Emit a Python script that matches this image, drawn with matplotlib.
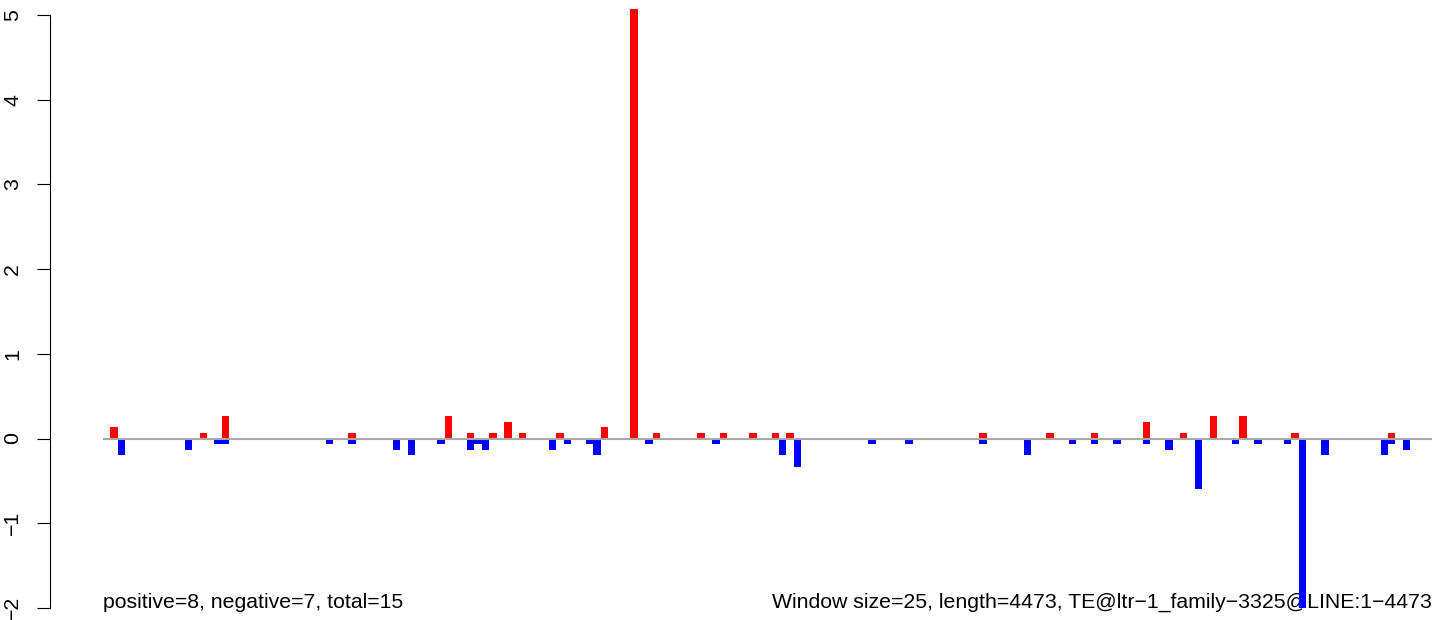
import matplotlib
matplotlib.use("Agg")
import matplotlib.pyplot as plt

# ---- data ----
window_size = 25
seq_length = 4473

# window indices and values of positive (red) bars
pos_windows = [1, 13, 16, 33, 46, 49, 52, 54, 56, 61, 67, 71, 74, 80, 83, 87,
               90, 92, 118, 127, 133, 140, 145, 149, 153, 160, 173]
pos_values = [0.133, 0.067, 0.267, 0.067, 0.267, 0.067, 0.067, 0.2, 0.067, 0.067,
              0.133, 5.067, 0.067, 0.067, 0.067, 0.067, 0.067, 0.067, 0.067, 0.067,
              0.067, 0.2, 0.067, 0.267, 0.267, 0.067, 0.067]

# window indices and values of negative (blue) bars
neg_windows = [2, 11, 15, 16, 30, 33, 39, 41, 45, 49, 50, 51, 60, 62, 65, 66, 73,
               82, 91, 93, 103, 108, 118, 124, 130, 133, 136, 140, 143, 147, 152,
               155, 159, 161, 164, 172, 173, 175]
neg_values = [-0.2, -0.133, -0.067, -0.067, -0.067, -0.067, -0.133, -0.2, -0.067,
              -0.133, -0.067, -0.133, -0.133, -0.067, -0.067, -0.2, -0.067, -0.067,
              -0.2, -0.333, -0.067, -0.067, -0.067, -0.2, -0.067, -0.067, -0.067,
              -0.067, -0.133, -0.6, -0.067, -0.067, -0.067, -2.0, -0.2, -0.2,
              -0.067, -0.133]

y_ticks = [-2, -1, 0, 1, 2, 3, 4, 5]
y_tick_labels = ["\u22122", "\u22121", "0", "1", "2", "3", "4", "5"]

left_text = "positive=8, negative=7, total=15"
right_text = "Window size=25, length=4473, TE@ltr\u22121_family\u22123325@LINE:1\u22124473"

# ---- layout ----
W, H = 1444, 620
plt.rcParams['font.family'] = ['Liberation Sans', 'DejaVu Sans']
fig = plt.figure(figsize=(W / 100, H / 100), dpi=100)
ax = fig.add_axes([0, 0, 1, 1])

px0, px1 = 103.0, 1432.0          # pixel x of bp 0 and bp seq_length
s = (px1 - px0) / seq_length       # px per bp
ax.set_xlim(-px0 / s, seq_length + (W - px1) / s)

y0px, upx = 438.5, 84.7            # pixel y of 0, px per unit
ax.set_ylim(-(H - y0px) / upx, y0px / upx)

ax.bar([k * window_size for k in pos_windows], pos_values, width=window_size,
       align='edge', color='#FF0000', linewidth=0, zorder=3)
ax.bar([k * window_size for k in neg_windows], neg_values, width=window_size,
       align='edge', color='#0000FF', linewidth=0, zorder=3)

ax.plot([0, seq_length], [0, 0], color='#A8A8A8', lw=1.5, zorder=4,
        solid_capstyle='butt')

# axis
for sp in ['top', 'right', 'bottom']:
    ax.spines[sp].set_visible(False)
ax.spines['left'].set_position(('data', (50.5 - px0) / s))
ax.spines['left'].set_bounds(-2, 5)
ax.spines['left'].set_linewidth(0.8)
ax.set_xticks([])
ax.set_yticks(y_ticks)
ax.set_yticklabels(y_tick_labels, rotation=90, va='center', ha='right')
ax.tick_params(axis='y', length=9.5, width=0.8, pad=11, labelsize=15.3)
ax.patch.set_visible(False)

ax.text(0, -2, left_text, ha='left', va='baseline', fontsize=15.3, zorder=1)
ax.text(seq_length, -2, right_text, ha='right', va='baseline', fontsize=15.3,
        zorder=1)

fig.savefig("out.png", dpi=100)
